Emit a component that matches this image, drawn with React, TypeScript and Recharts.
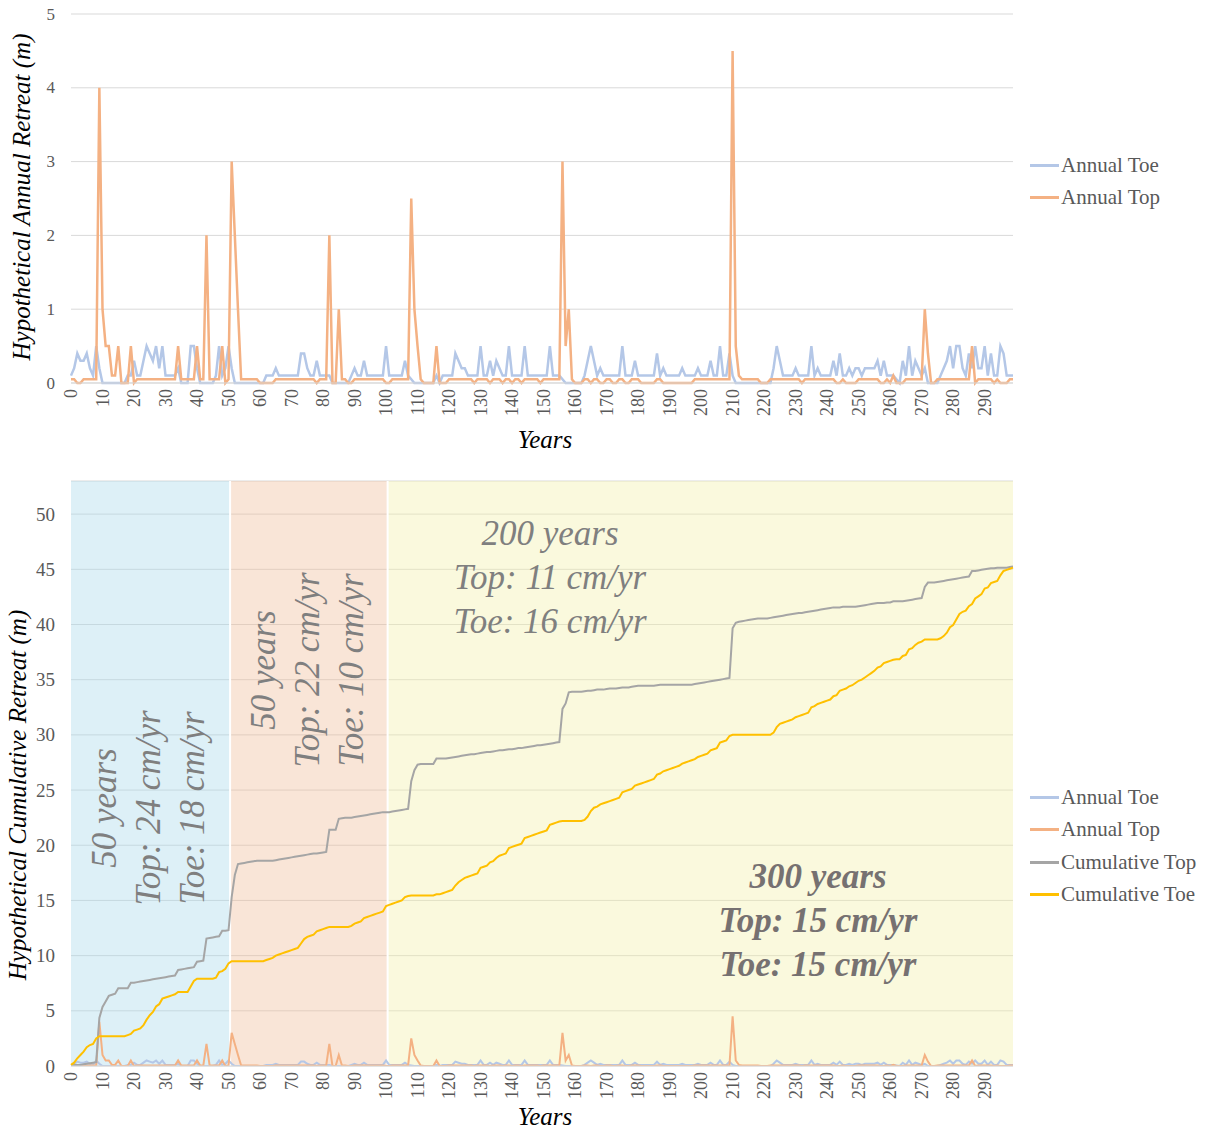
import {
  LineChart,
  Line,
  XAxis,
  YAxis,
  CartesianGrid,
  ReferenceArea,
  ReferenceLine,
} from 'recharts';

const FONT = '"Liberation Serif", "Times New Roman", serif';

// years 0..299 (category positions)
const years = Array.from({ length: 300 }, (_, i) => i);

// annual retreat at the toe (m)
const annualToe = [
  0.1, 0.2, 0.4, 0.3, 0.3, 0.4, 0.2, 0.1, 0.5, 0.2,
  0, 0, 0, 0, 0, 0, 0, 0, 0.1, 0.1,
  0.3, 0.1, 0.1, 0.3, 0.5, 0.4, 0.3, 0.5, 0.2, 0.5,
  0.1, 0.1, 0.1, 0.1, 0.2, 0, 0, 0, 0.5, 0.5,
  0.2, 0, 0, 0, 0, 0, 0.1, 0.5, 0.1, 0.2,
  0.5, 0.2, 0, 0, 0, 0, 0, 0, 0, 0,
  0, 0, 0.1, 0.1, 0.1, 0.2, 0.1, 0.1, 0.1, 0.1,
  0.1, 0.1, 0.1, 0.4, 0.4, 0.2, 0.1, 0.1, 0.3, 0.1,
  0.1, 0.1, 0.1, 0, 0, 0, 0, 0, 0, 0.1,
  0.2, 0.1, 0.1, 0.3, 0.1, 0.1, 0.1, 0.1, 0.1, 0.1,
  0.5, 0.1, 0.1, 0.1, 0.1, 0.1, 0.3, 0.1, 0.05, 0,
  0, 0, 0, 0, 0, 0, 0.1, 0, 0.1, 0.1,
  0.1, 0.1, 0.4, 0.3, 0.2, 0.2, 0.1, 0.1, 0.1, 0.1,
  0.5, 0.1, 0.1, 0.3, 0.1, 0.3, 0.2, 0.1, 0.1, 0.5,
  0.1, 0.1, 0.1, 0.1, 0.5, 0.1, 0.1, 0.1, 0.1, 0.1,
  0.1, 0.1, 0.5, 0.1, 0.1, 0.1, 0.05, 0, 0, 0,
  0, 0, 0, 0.1, 0.3, 0.5, 0.3, 0.1, 0.2, 0.1,
  0.1, 0.1, 0.1, 0.1, 0.1, 0.5, 0.1, 0.1, 0.1, 0.3,
  0.1, 0.1, 0.1, 0.1, 0.1, 0.1, 0.4, 0.1, 0.2, 0.1,
  0.1, 0.1, 0.1, 0.1, 0.2, 0.1, 0.1, 0.1, 0.1, 0.2,
  0.1, 0.1, 0.1, 0.3, 0.1, 0.1, 0.5, 0.1, 0.1, 0.4,
  0.1, 0, 0, 0, 0, 0, 0, 0, 0, 0,
  0, 0, 0, 0.2, 0.5, 0.3, 0.1, 0.1, 0.1, 0.1,
  0.2, 0.1, 0.1, 0.1, 0.1, 0.5, 0.1, 0.2, 0.1, 0.1,
  0.1, 0.1, 0.3, 0.1, 0.4, 0.1, 0.1, 0.2, 0.1, 0.2,
  0.2, 0.1, 0.2, 0.2, 0.2, 0.2, 0.3, 0.1, 0.3, 0.1,
  0.1, 0.1, 0.05, 0, 0.3, 0.1, 0.5, 0.1, 0.3, 0.2,
  0.1, 0.2, 0, 0, 0, 0, 0.1, 0.2, 0.3, 0.5,
  0.2, 0.5, 0.5, 0.2, 0.1, 0.4, 0.2, 0.5, 0.2, 0.2,
  0.5, 0.1, 0.4, 0.1, 0.1, 0.5, 0.4, 0.1, 0.1, 0.1,
];

// annual retreat at the top (m)
const annualTop = [
  0.05, 0.05, 0, 0, 0.05, 0.05, 0.05, 0.05, 0.05, 4,
  1, 0.5, 0.5, 0.1, 0.1, 0.5, 0, 0, 0, 0.5,
  0, 0.05, 0.05, 0.05, 0.05, 0.05, 0.05, 0.05, 0.05, 0.05,
  0.05, 0.05, 0.05, 0.05, 0.5, 0.05, 0.05, 0.05, 0.05, 0.05,
  0.5, 0.05, 0.05, 2, 0.05, 0.05, 0.05, 0.05, 0.5, 0,
  0.05, 3, 2, 1, 0.05, 0.05, 0.05, 0.05, 0.05, 0.05,
  0, 0, 0, 0, 0, 0.05, 0.05, 0.05, 0.05, 0.05,
  0.05, 0.05, 0.05, 0.05, 0.05, 0.05, 0.05, 0.05, 0, 0.05,
  0.05, 0.05, 2, 0, 0, 1, 0.05, 0.05, 0, 0,
  0.05, 0.05, 0.05, 0.05, 0.05, 0.05, 0.05, 0.05, 0.05, 0.05,
  0, 0, 0.05, 0.05, 0.05, 0.05, 0.05, 0.05, 2.5, 1,
  0.5, 0.05, 0, 0, 0, 0, 0.5, 0, 0, 0,
  0.05, 0.05, 0.05, 0.05, 0.05, 0.05, 0.05, 0.05, 0, 0.05,
  0.05, 0.05, 0.05, 0, 0.05, 0.05, 0.05, 0, 0.05, 0.05,
  0, 0.05, 0.05, 0, 0.05, 0.05, 0.05, 0.05, 0.05, 0,
  0.05, 0.05, 0.05, 0.05, 0.05, 0.05, 3, 0.5, 1, 0.05,
  0, 0, 0, 0.05, 0.05, 0, 0.05, 0.05, 0, 0,
  0.05, 0.05, 0, 0, 0.05, 0.05, 0, 0, 0.05, 0.05,
  0.05, 0, 0, 0, 0, 0, 0.05, 0.05, 0, 0,
  0, 0, 0, 0, 0, 0, 0, 0, 0.05, 0.05,
  0.05, 0.05, 0.05, 0.05, 0.05, 0.05, 0.05, 0.05, 0.05, 0.05,
  4.5, 0.5, 0.1, 0.05, 0.05, 0.05, 0.05, 0.05, 0.05, 0,
  0, 0, 0.05, 0.05, 0.05, 0.05, 0.05, 0.05, 0.05, 0.05,
  0.05, 0.05, 0, 0.05, 0.05, 0.05, 0.05, 0.05, 0.05, 0.05,
  0.05, 0.05, 0.05, 0, 0, 0.05, 0, 0, 0, 0,
  0.05, 0.05, 0.05, 0.05, 0.05, 0.05, 0.05, 0, 0, 0.05,
  0, 0.1, 0, 0, 0, 0.05, 0.05, 0.05, 0.05, 0.05,
  0.05, 1, 0.4, 0, 0, 0.05, 0.05, 0.05, 0.05, 0.05,
  0.05, 0.05, 0.05, 0.05, 0.05, 0.05, 0.5, 0, 0.05, 0.05,
  0.05, 0.05, 0.05, 0, 0.05, 0, 0, 0, 0.05, 0.05,
];

const xTicks = [
  0, 10, 20, 30, 40, 50, 60, 70, 80, 90, 100, 110, 120, 130, 140,
  150, 160, 170, 180, 190, 200, 210, 220, 230, 240, 250, 260, 270, 280, 290,
];
const annualTicks = [0, 1, 2, 3, 4, 5];
const cumulativeTicks = [0, 5, 10, 15, 20, 25, 30, 35, 40, 45, 50];

const COLORS = {
  toe: '#B4C7E7',
  top: '#F4B183',
  cumTop: '#A5A5A5',
  cumToe: '#FFC000',
};

// cumulative series are running sums of the annual values
let runToe = 0;
let runTop = 0;
const rows = years.map((year, i) => {
  runToe += annualToe[i];
  runTop += annualTop[i];
  return {
    year,
    toe: annualToe[i],
    top: annualTop[i],
    cumTop: Math.round(runTop * 100) / 100,
    cumToe: Math.round(runToe * 100) / 100,
  };
});

function XTick({ x, y, payload }: any) {
  return (
    <text
      x={x}
      y={y}
      transform={`rotate(-90 ${x} ${y})`}
      textAnchor="end"
      dominantBaseline="central"
      fill="#595959"
      fontSize={18}
      style={{ fontFamily: FONT }}
    >
      {payload.value}
    </text>
  );
}

function YTick({ x, y, payload, size }: any) {
  return (
    <text
      x={x}
      y={y}
      textAnchor="end"
      dominantBaseline="central"
      fill="#595959"
      fontSize={size}
      style={{ fontFamily: FONT }}
    >
      {payload.value}
    </text>
  );
}

function Legend({ items, left, top }: { items: { name: string; color: string }[]; left: number; top: number }) {
  return (
    <div style={{ position: 'absolute', left, top }}>
      {items.map((it) => (
        <div key={it.name} style={{ display: 'flex', alignItems: 'center', height: 32.5 }}>
          <div style={{ width: 29, height: 3, background: it.color, marginRight: 2 }} />
          <span style={{ fontSize: 21, color: '#595959', fontFamily: FONT, whiteSpace: 'nowrap' }}>{it.name}</span>
        </div>
      ))}
    </div>
  );
}

function Title({ text, x, y, rotate = false }: { text: string; x: number; y: number; rotate?: boolean }) {
  return (
    <div
      style={{
        position: 'absolute',
        left: x,
        top: y,
        transform: `translate(-50%, -50%)${rotate ? ' rotate(-90deg)' : ''}`,
        fontFamily: FONT,
        fontStyle: 'italic',
        fontSize: 25,
        color: '#000',
        whiteSpace: 'nowrap',
      }}
    >
      {text}
    </div>
  );
}

function Note({ lines, x, y, rotate = false, bold = false }: { lines: string[]; x: number; y: number; rotate?: boolean; bold?: boolean }) {
  return (
    <div
      style={{
        position: 'absolute',
        left: x,
        top: y,
        transform: `translate(-50%, -50%)${rotate ? ' rotate(-90deg)' : ''}`,
        fontFamily: FONT,
        fontStyle: 'italic',
        fontWeight: bold ? 'bold' : 'normal',
        fontSize: 35,
        lineHeight: '44px',
        color: bold ? '#767171' : '#7F7F7F',
        textAlign: 'center',
        whiteSpace: 'nowrap',
      }}
    >
      {lines.map((l) => (
        <div key={l}>{l}</div>
      ))}
    </div>
  );
}

export default function App() {
  return (
    <div style={{ position: 'absolute', left: 0, top: 0, width: 1214, height: 1132, background: '#fff' }}>
      <LineChart width={1214} height={460} data={rows} margin={{ top: 14, right: 201, bottom: 37, left: 0 }}>
        <CartesianGrid vertical={false} stroke="#D9D9D9" />
        <XAxis
          type="number"
          dataKey="year"
          domain={[0, 299]}
          ticks={xTicks}
          interval={0}
          height={40}
          tick={<XTick />}
          tickLine={false}
          tickSize={6}
          tickMargin={0}
          stroke="#D9D9D9"
        />
        <YAxis
          domain={[0, 5]}
          ticks={annualTicks}
          width={71}
          axisLine={false}
          tickLine={false}
          tickSize={0}
          tickMargin={16}
          tick={<YTick size={17} />}
        />
        <Line type="linear" dataKey="toe" name="Annual Toe" stroke={COLORS.toe} strokeWidth={2.5} dot={false} isAnimationActive={false} />
        <Line type="linear" dataKey="top" name="Annual Top" stroke={COLORS.top} strokeWidth={2.5} dot={false} isAnimationActive={false} />
      </LineChart>

      <div style={{ position: 'absolute', left: 0, top: 460 }}>
        <LineChart width={1214} height={672} data={rows} margin={{ top: 21, right: 201, bottom: 26, left: 0 }}>
          <CartesianGrid vertical={false} stroke="#D9D9D9" />
          <ReferenceArea x1={0} x2={50.5} fill="#AAD9EB" fillOpacity={0.4} stroke="none" ifOverflow="visible" />
          <ReferenceArea x1={50.5} x2={100.5} fill="#F0BE9B" fillOpacity={0.4} stroke="none" ifOverflow="visible" />
          <ReferenceArea x1={100.5} x2={299} fill="#F2F0AA" fillOpacity={0.4} stroke="none" ifOverflow="visible" />
          <ReferenceLine x={50.5} stroke="#fff" strokeWidth={2} />
          <ReferenceLine x={100.5} stroke="#fff" strokeWidth={2} />
          <XAxis
            type="number"
            dataKey="year"
            domain={[0, 299]}
            ticks={xTicks}
            interval={0}
            height={40}
            tick={<XTick />}
            tickLine={false}
            tickSize={6}
            tickMargin={0}
            stroke="#D9D9D9"
          />
          <YAxis
            domain={[0, 53]}
            ticks={cumulativeTicks}
            width={71}
            axisLine={false}
            tickLine={false}
            tickSize={0}
            tickMargin={16}
            tick={<YTick size={19} />}
            allowDataOverflow
          />
          <Line type="linear" dataKey="toe" name="Annual Toe" stroke={COLORS.toe} strokeWidth={2} dot={false} isAnimationActive={false} />
          <Line type="linear" dataKey="top" name="Annual Top" stroke={COLORS.top} strokeWidth={2} dot={false} isAnimationActive={false} />
          <Line type="linear" dataKey="cumTop" name="Cumulative Top" stroke={COLORS.cumTop} strokeWidth={2} dot={false} isAnimationActive={false} />
          <Line type="linear" dataKey="cumToe" name="Cumulative Toe" stroke={COLORS.cumToe} strokeWidth={2} dot={false} isAnimationActive={false} />
        </LineChart>
      </div>

      <Title text="Hypothetical Annual Retreat (m)" x={22} y={197} rotate />
      <Title text="Years" x={545} y={440} />
      <Title text="Hypothetical Cumulative Retreat (m)" x={18} y={795} rotate />
      <Title text="Years" x={545} y={1117} />

      <Legend
        left={1030}
        top={165 - 16}
        items={[
          { name: 'Annual Toe', color: COLORS.toe },
          { name: 'Annual Top', color: COLORS.top },
        ]}
      />
      <Legend
        left={1030}
        top={797 - 16}
        items={[
          { name: 'Annual Toe', color: COLORS.toe },
          { name: 'Annual Top', color: COLORS.top },
          { name: 'Cumulative Top', color: COLORS.cumTop },
          { name: 'Cumulative Toe', color: COLORS.cumToe },
        ]}
      />

      <Note lines={['50 years', 'Top: 24 cm/yr', 'Toe: 18 cm/yr']} x={149} y={808} rotate />
      <Note lines={['50 years', 'Top: 22 cm/yr', 'Toe: 10 cm/yr']} x={308} y={670} rotate />
      <Note lines={['200 years', 'Top: 11 cm/yr', 'Toe: 16 cm/yr']} x={550} y={578} />
      <Note lines={['300 years', 'Top: 15 cm/yr', 'Toe: 15 cm/yr']} x={818} y={921} bold />
    </div>
  );
}
